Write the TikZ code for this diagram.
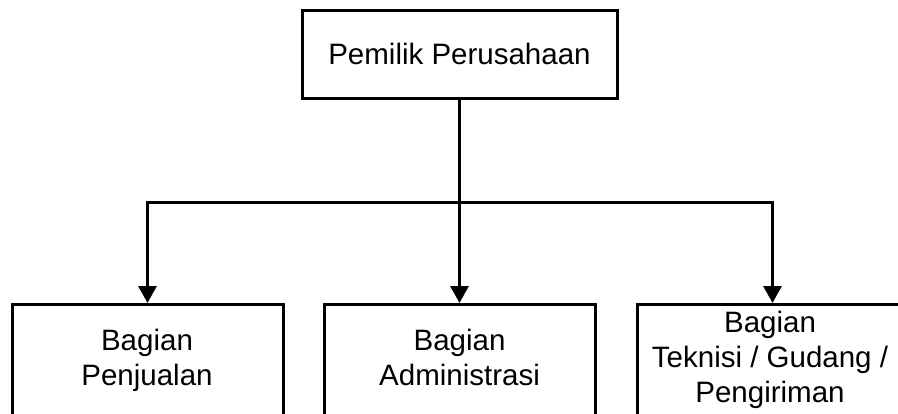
\documentclass[tikz,border=0pt]{standalone}
\usepackage{fontspec}
\setmainfont{Liberation Sans}
\usetikzlibrary{arrows.meta}
\begin{document}
\begin{tikzpicture}[x=1pt,y=-1pt,
  box/.style={draw=black,line width=3pt,fill=white,inner sep=0pt},
  lbl/.style={align=center,inner sep=0pt,font=\fontsize{29.5}{35}\selectfont},
  conn/.style={draw=black,line width=3pt},
  arr/.style={conn,-{Triangle[width=18pt,length=17pt]}}]
\useasboundingbox (0,0) rectangle (898,413);
\clip (0,0) rectangle (898,413);
\node[box,minimum width=315pt,minimum height=88pt,font=\fontsize{29.5}{35}\selectfont] (top) at (459.5,54) {Pemilik Perusahaan};
\node[box,anchor=north,minimum width=271pt,minimum height=160pt] (lbox) at (147.5,303) {};
\node[box,anchor=north,minimum width=271pt,minimum height=160pt] (mbox) at (459.5,303) {};
\node[box,anchor=north,minimum width=271pt,minimum height=160pt] (rbox) at (772.5,303) {};
\node[lbl,anchor=base] (ltext) at (147,385) {Bagian\\Penjualan};
\node[lbl,anchor=base] (mtext) at (459.5,385) {Bagian\\Administrasi};
\node[lbl,anchor=base] (rtext) at (770,402) {Bagian\\Teknisi / Gudang /\\Pengiriman};
\coordinate (j) at (459.5,202);
\draw[conn] (top.south) -- (j);
\draw[arr] (j) -| (lbox.north);
\draw[arr] (j) -- (mbox.north);
\draw[arr] (j) -| (rbox.north);
\end{tikzpicture}
\end{document}
